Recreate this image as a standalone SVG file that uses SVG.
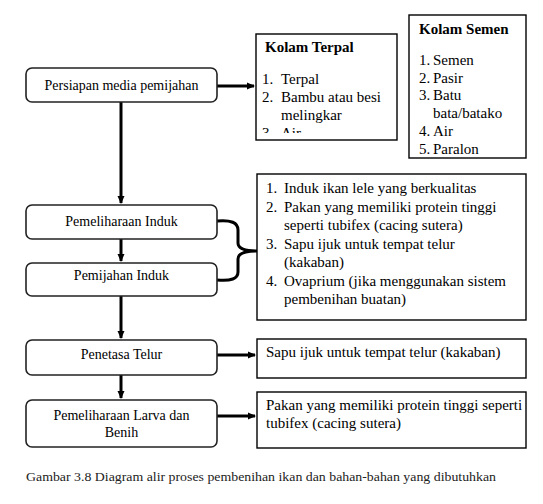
<svg xmlns="http://www.w3.org/2000/svg" width="543" height="504" viewBox="0 0 543 504">
<defs>
<style>
.node{fill:#fff;stroke:#222;stroke-width:1.6}
.box{fill:#fff;stroke:#000;stroke-width:1.4}
.t{font-family:"Liberation Serif","Times New Roman",serif;font-size:14px;fill:#000}
.l{font-family:"Liberation Serif","Times New Roman",serif;font-size:15px;fill:#000}
.b{font-weight:bold}
.c{stroke:#000;stroke-width:3;fill:none}
.cap{font-family:"Liberation Serif","Times New Roman",serif;font-size:13.5px;fill:#222}
</style>
<marker id="ah" markerWidth="10" markerHeight="10" refX="7" refY="5" orient="auto" markerUnits="userSpaceOnUse">
<path d="M0,1.5 L8,5 L0,8.5 Z" fill="#000"/>
</marker>
<clipPath id="clipT"><rect x="256" y="34" width="141" height="99"/></clipPath>
</defs>

<g id="connectors">
<line class="c" x1="217" y1="86" x2="254" y2="86" marker-end="url(#ah)"/>
<line class="c" x1="121" y1="102" x2="121" y2="203" marker-end="url(#ah)"/>
<line class="c" x1="121" y1="239" x2="121" y2="261" marker-end="url(#ah)"/>
<line class="c" x1="121" y1="296" x2="121" y2="338" marker-end="url(#ah)"/>
<line class="c" x1="217" y1="355" x2="255" y2="355" marker-end="url(#ah)"/>
<line class="c" x1="121" y1="375" x2="121" y2="398" marker-end="url(#ah)"/>
<line class="c" x1="217" y1="416" x2="255" y2="416" marker-end="url(#ah)"/>
<path class="c" d="M217,221 Q238,219 238,230 L238,243 Q238,251 257,251 Q238,251 238,259 L238,272 Q238,282 217,280"/>
</g>

<g id="n1">
<rect class="node" x="26" y="68" width="191" height="34" rx="6"/>
<text class="t" x="121.5" y="90" text-anchor="middle">Persiapan media pemijahan</text>
</g>
<g id="n2">
<rect class="node" x="26" y="205" width="191" height="34" rx="6"/>
<text class="t" x="121.5" y="226" text-anchor="middle">Pemeliharaan Induk</text>
</g>
<g id="n3">
<rect class="node" x="26" y="263" width="191" height="33" rx="6"/>
<text class="t" x="121.5" y="280" text-anchor="middle">Pemijahan Induk</text>
</g>
<g id="n4">
<rect class="node" x="26" y="340" width="191" height="35" rx="6"/>
<text class="t" x="121.5" y="359" text-anchor="middle">Penetasa Telur</text>
</g>
<g id="n5">
<rect class="node" x="26" y="400" width="191" height="47" rx="6"/>
<text class="t" x="121.5" y="420" text-anchor="middle">Pemeliharaan Larva dan</text>
<text class="t" x="121.5" y="437" text-anchor="middle">Benih</text>
</g>

<g id="kolam-terpal">
<rect class="box" x="256" y="34" width="141" height="106"/>
<g clip-path="url(#clipT)">
<text class="l b" x="265" y="52">Kolam Terpal</text>
<text class="l" x="262" y="84">1.</text><text class="l" x="281" y="84">Terpal</text>
<text class="l" x="262" y="102">2.</text><text class="l" x="281" y="102">Bambu atau besi</text>
<text class="l" x="281" y="120">melingkar</text>
<text class="l" x="262" y="138">3.</text><text class="l" x="281" y="138">Air</text>
</g>
</g>

<g id="kolam-semen">
<rect class="box" x="409" y="15" width="117" height="143"/>
<text class="l b" x="419" y="34">Kolam Semen</text>
<text class="l" x="419" y="65">1.</text><text class="l" x="433" y="65">Semen</text>
<text class="l" x="419" y="83">2.</text><text class="l" x="433" y="83">Pasir</text>
<text class="l" x="419" y="100">3.</text><text class="l" x="433" y="100">Batu</text>
<text class="l" x="433" y="118">bata/batako</text>
<text class="l" x="419" y="136">4.</text><text class="l" x="433" y="136">Air</text>
<text class="l" x="419" y="154">5.</text><text class="l" x="433" y="154">Paralon</text>
</g>

<g id="bahan-induk">
<rect class="box" x="257" y="174" width="269" height="146"/>
<text class="l" x="266" y="193">1.</text><text class="l" x="284" y="193">Induk ikan lele yang berkualitas</text>
<text class="l" x="266" y="212">2.</text><text class="l" x="284" y="212">Pakan yang memiliki protein tinggi</text>
<text class="l" x="284" y="230">seperti tubifex (cacing sutera)</text>
<text class="l" x="266" y="249">3.</text><text class="l" x="284" y="249">Sapu ijuk untuk tempat telur</text>
<text class="l" x="284" y="267">(kakaban)</text>
<text class="l" x="266" y="286">4.</text><text class="l" x="284" y="286">Ovaprium (jika menggunakan sistem</text>
<text class="l" x="284" y="304">pembenihan buatan)</text>
</g>

<g id="bahan-telur">
<rect class="box" x="257" y="339" width="269" height="39"/>
<text class="l" x="266" y="357">Sapu ijuk untuk tempat telur (kakaban)</text>
</g>

<g id="bahan-larva">
<rect class="box" x="257" y="392" width="269" height="56"/>
<text class="l" x="266" y="410">Pakan yang memiliki protein tinggi seperti</text>
<text class="l" x="266" y="428">tubifex (cacing sutera)</text>
</g>

<text class="cap" x="26" y="481" textLength="470" lengthAdjust="spacingAndGlyphs">Gambar 3.8 Diagram alir proses pembenihan ikan dan bahan-bahan yang dibutuhkan</text>
</svg>
